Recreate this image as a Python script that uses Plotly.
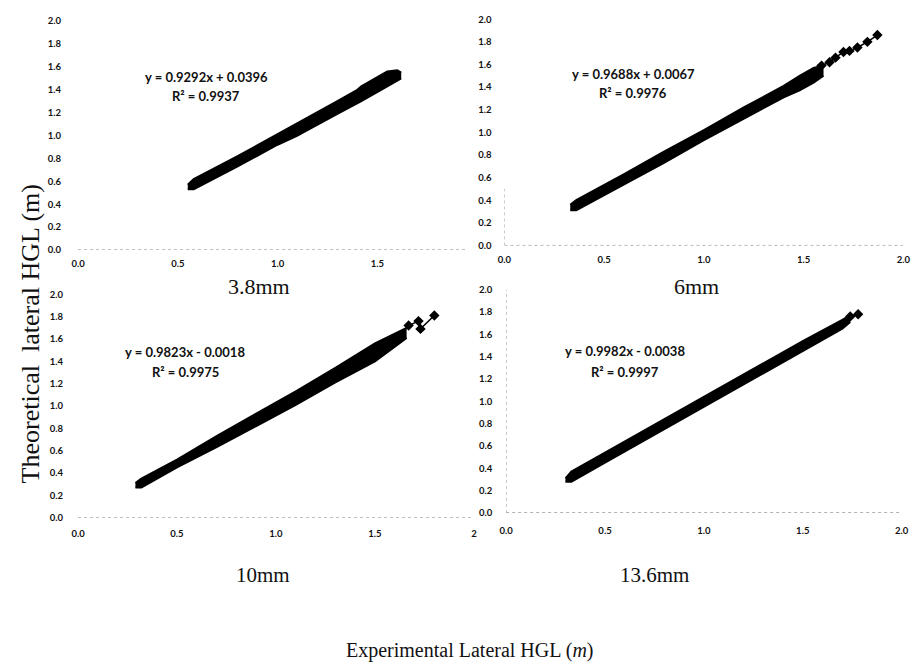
import plotly.graph_objects as go

W, H = 922, 667
OX, OY = 8, 8  # page body margin of the html page

# ---------------- data ----------------
panel_names = ["3.8mm", "6mm", "10mm", "13.6mm"]
equations = ["y = 0.9292x + 0.0396", "y = 0.9688x + 0.0067",
             "y = 0.9823x - 0.0018", "y = 0.9982x - 0.0038"]
r_squared = ["R² = 0.9937", "R² = 0.9976", "R² = 0.9975", "R² = 0.9997"]

# lower / upper extent of the dense point cloud at each experimental HGL
p1_x = [0.55, 0.58, 0.80, 1.00, 1.10, 1.12, 1.30, 1.40, 1.42, 1.55, 1.60, 1.62]
p1_low = [0.53, 0.53, 0.73, 0.92, 1.00, 1.02, 1.19, 1.28, 1.30, 1.43, 1.48, 1.50]
p1_high = [0.57, 0.62, 0.82, 1.01, 1.11, 1.13, 1.30, 1.40, 1.43, 1.56, 1.57, 1.55]
p1_sx = []
p1_sy = []

p2_x = [0.33, 0.36, 0.60, 0.80, 1.00, 1.20, 1.40, 1.48, 1.55, 1.60]
p2_low = [0.31, 0.31, 0.54, 0.73, 0.93, 1.12, 1.31, 1.37, 1.44, 1.50]
p2_high = [0.36, 0.40, 0.63, 0.83, 1.02, 1.22, 1.41, 1.50, 1.57, 1.59]
p2_sx = [1.59, 1.63, 1.66, 1.70, 1.73, 1.77, 1.82, 1.87]
p2_sy = [1.59, 1.62, 1.66, 1.71, 1.72, 1.75, 1.80, 1.86]

p3_x = [0.29, 0.32, 0.50, 0.70, 0.90, 1.10, 1.30, 1.50, 1.66]
p3_low = [0.27, 0.27, 0.45, 0.63, 0.82, 1.01, 1.21, 1.40, 1.61]
p3_high = [0.31, 0.35, 0.52, 0.73, 0.93, 1.13, 1.34, 1.56, 1.70]
p3_sx = [1.67, 1.72, 1.73, 1.80]
p3_sy = [1.72, 1.76, 1.69, 1.81]

p4_x = [0.30, 0.33, 0.50, 0.70, 0.90, 1.10, 1.30, 1.50, 1.70, 1.74]
p4_low = [0.28, 0.28, 0.45, 0.65, 0.85, 1.05, 1.25, 1.45, 1.65, 1.71]
p4_high = [0.31, 0.37, 0.54, 0.74, 0.94, 1.14, 1.34, 1.54, 1.73, 1.77]
p4_sx = [1.74, 1.78]
p4_sy = [1.76, 1.78]

x_ticks = [0.0, 0.5, 1.0, 1.5, 2.0]
x_ticktext_p1 = ["0.0", "0.5", "1.0", "1.5", ""]
x_ticktext_p2 = ["0.0", "0.5", "1.0", "1.5", "2.0"]
x_ticktext_p3 = ["0.0", "0.5", "1.0", "1.5", "2"]
x_ticktext_p4 = ["0.0", "0.5", "1.0", "1.5", "2.0"]
y_ticks = [0.0, 0.2, 0.4, 0.6, 0.8, 1.0, 1.2, 1.4, 1.6, 1.8, 2.0]
y_ticktext = ["0.0", "0.2", "0.4", "0.6", "0.8", "1.0", "1.2", "1.4", "1.6", "1.8", "2.0"]

y_title = "Theoretical\u00a0\u00a0lateral HGL (m)"
x_title = "Experimental Lateral HGL (<i>m</i>)"


# ---------------- layout geometry (screen pixels) ----------------
def px(x):
    return (x - OX) / W


def py(y):
    return 1 - (y - OY) / H


def bold(labels):
    return ["<b>%s</b>" % t if t else "" for t in labels]


panels = [
    dict(x=p1_x, lo=p1_low, hi=p1_high, sx=p1_sx, sy=p1_sy, ttext=x_ticktext_p1,
         xd=(72, 465), yd=(15.2, 248), xmax=1.94, ylen=14, xlen=5),
    dict(x=p2_x, lo=p2_low, hi=p2_high, sx=p2_sx, sy=p2_sy, ttext=x_ticktext_p2,
         xd=(505, 910), yd=(13.3, 243.3), xmax=2.0, ylen=10, xlen=5),
    dict(x=p3_x, lo=p3_low, hi=p3_high, sx=p3_sx, sy=p3_sy, ttext=x_ticktext_p3,
         xd=(72, 474), yd=(293, 520), xmax=2.0, ylen=12, xlen=7),
    dict(x=p4_x, lo=p4_low, hi=p4_high, sx=p4_sx, sy=p4_sy, ttext=x_ticktext_p4,
         xd=(506.7, 908.3), yd=(288.3, 515.3), xmax=2.0, ylen=11, xlen=9),
]

title_pos = [(256, 285, 22), (700, 285, 22), (260, 578, 21), (657, 578, 21)]
eq_pos = [(202, 72, 91), (636, 69, 88), (181, 352, 372), (627, 351, 372)]

fig = go.Figure()
tick_font = dict(family="Lato", size=9.5, color="#111")
eq_font = dict(family="Lato", size=13, color="#111")
shapes = []
annotations = []

for i, p in enumerate(panels):
    n = "" if i == 0 else str(i + 1)
    xa, ya = "x" + n, "y" + n
    fig.add_trace(go.Scatter(x=p["x"], y=p["lo"], mode="lines", xaxis=xa, yaxis=ya,
                             line=dict(color="black", width=2), showlegend=False,
                             hoverinfo="skip"))
    fig.add_trace(go.Scatter(x=p["x"], y=p["hi"], mode="lines", xaxis=xa, yaxis=ya,
                             line=dict(color="black", width=2), fill="tonexty",
                             fillcolor="black", showlegend=False))
    if p["sx"]:
        fig.add_trace(go.Scatter(x=p["sx"], y=p["sy"], mode="lines+markers", xaxis=xa,
                                 yaxis=ya, line=dict(color="black", width=1.5),
                                 marker=dict(symbol="diamond", size=8, color="black"),
                                 showlegend=False))
    xd = [px(p["xd"][0]), px(p["xd"][1])]
    yd = [py(p["yd"][1]), py(p["yd"][0])]
    fig.update_layout(**{
        "xaxis" + n: dict(domain=xd, range=[0, p["xmax"]], anchor=ya,
                          tickvals=x_ticks, ticktext=bold(p["ttext"]), showgrid=False,
                          zeroline=False, showline=False, ticks="outside",
                          ticklen=p["xlen"], tickcolor="rgba(0,0,0,0)",
                          tickfont=tick_font, fixedrange=True),
        "yaxis" + n: dict(domain=yd, range=[0, 2.0], anchor=xa,
                          tickvals=y_ticks, ticktext=bold(y_ticktext), showgrid=False,
                          zeroline=False, showline=False, ticks="outside",
                          ticklen=p["ylen"], tickcolor="rgba(0,0,0,0)",
                          tickfont=tick_font, fixedrange=True),
    })
    shapes.append(dict(type="line", xref=xa, yref=ya, x0=0, x1=p["xmax"], y0=0, y1=0,
                       line=dict(color="#7a7a7a", width=1, dash="dot")))
    if i in (1, 3):
        shapes.append(dict(type="line", xref=xa, yref=ya, x0=0, x1=0, y0=0,
                           y1=2.0 if i == 3 else 0.5,
                           line=dict(color="#9a9a9a", width=1, dash="dot")))
    tx, ty, ts = title_pos[i]
    annotations.append(dict(x=px(tx), y=py(ty), xref="paper", yref="paper",
                            text=panel_names[i], showarrow=False,
                            font=dict(family="Liberation Serif", size=ts, color="#111"),
                            xanchor="center", yanchor="middle"))
    ex, ey1, ey2 = eq_pos[i]
    annotations.append(dict(x=px(ex), y=py(ey1), xref="paper", yref="paper",
                            text="<b>%s</b>" % equations[i], showarrow=False,
                            font=eq_font, xanchor="center", yanchor="middle"))
    annotations.append(dict(x=px(ex), y=py(ey2), xref="paper", yref="paper",
                            text="<b>%s</b>" % r_squared[i], showarrow=False,
                            font=eq_font, xanchor="center", yanchor="middle"))

annotations.append(dict(x=px(24), y=py(333), xref="paper", yref="paper",
                        text=y_title, textangle=-90, showarrow=False,
                        font=dict(family="Liberation Serif", size=26, color="#111"),
                        xanchor="center", yanchor="middle"))
annotations.append(dict(x=px(470), y=py(655), xref="paper", yref="paper",
                        text=x_title, showarrow=False,
                        font=dict(family="Liberation Serif", size=20, color="#111"),
                        xanchor="center", yanchor="middle"))

fig.update_layout(width=W, height=H, margin=dict(l=0, r=0, t=0, b=0),
                  paper_bgcolor="white", plot_bgcolor="white",
                  shapes=shapes, annotations=annotations, showlegend=False)

fig.write_html("out.html")
